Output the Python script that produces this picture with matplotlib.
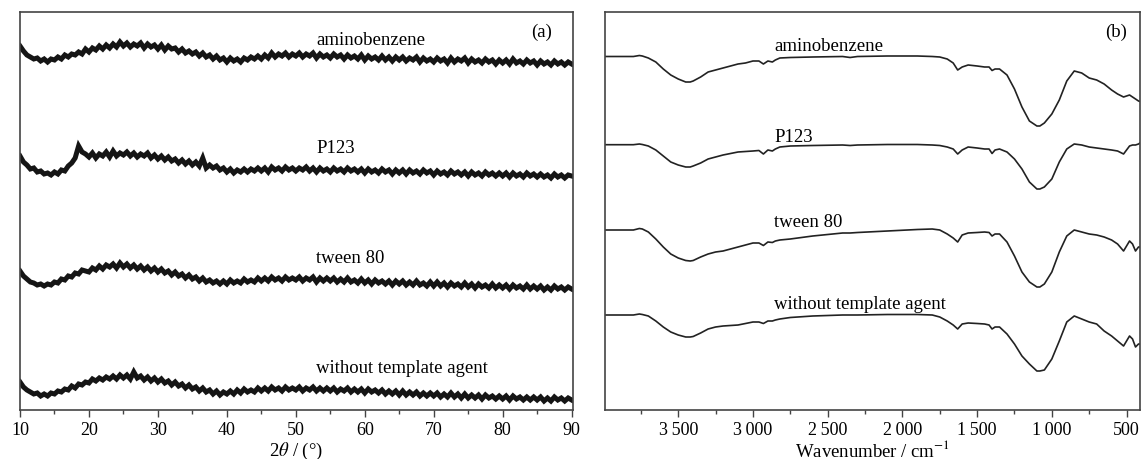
import numpy as np
import matplotlib
matplotlib.use('Agg')
import matplotlib.pyplot as plt
from matplotlib.ticker import MultipleLocator, FixedLocator

plt.rcParams['font.family'] = ['Liberation Serif', 'DejaVu Serif']
plt.rcParams['mathtext.fontset'] = 'stix'

# ---- (a) XRD, 2theta from 10 to 90 in 0.5 deg steps (intensity in arbitrary units)
two_theta = np.arange(10, 90.01, 0.5)

xrd_aminobenzene = [
    364, 359, 355, 353, 351, 352, 349, 351, 348, 351,
    350, 353, 351, 355, 353, 356, 355, 358, 356, 361,
    358, 362, 360, 364, 361, 365, 362, 366, 363, 368,
    364, 367, 363, 366, 364, 367, 362, 366, 363, 365,
    361, 365, 360, 364, 361, 362, 358, 361, 357, 359,
    356, 358, 354, 357, 353, 355, 351, 354, 350, 352,
    348, 352, 349, 351, 348, 352, 350, 353, 351, 354,
    351, 355, 352, 357, 353, 356, 354, 357, 353, 356,
    354, 357, 353, 356, 354, 357, 352, 356, 353, 355,
    352, 356, 353, 355, 351, 355, 352, 354, 351, 355,
    350, 354, 351, 353, 350, 354, 350, 353, 349, 353,
    350, 353, 349, 352, 350, 353, 348, 352, 349, 351,
    348, 352, 349, 351, 347, 352, 348, 351, 349, 352,
    347, 351, 348, 350, 347, 351, 348, 350, 346, 350,
    347, 350, 346, 351, 347, 349, 346, 350, 347, 349,
    345, 349, 346, 348, 345, 349, 346, 348, 345, 348,
    346]

xrd_p123 = [
    254, 248, 245, 241, 242, 238, 239, 236, 237, 235,
    238, 236, 240, 239, 244, 247, 252, 264, 258, 256,
    253, 257, 252, 256, 254, 258, 253, 259, 254, 257,
    255, 258, 254, 257, 253, 256, 254, 257, 252, 255,
    251, 254, 250, 253, 249, 251, 247, 250, 246, 249,
    245, 248, 244, 252, 242, 245, 242, 244, 240, 242,
    238, 241, 237, 240, 238, 241, 238, 241, 239, 242,
    239, 242, 238, 243, 240, 242, 239, 243, 240, 242,
    239, 242, 240, 243, 239, 242, 238, 242, 239, 241,
    238, 242, 239, 241, 238, 242, 239, 241, 238, 241,
    237, 241, 238, 240, 237, 241, 238, 240, 236, 240,
    237, 240, 236, 240, 237, 239, 236, 240, 237, 239,
    235, 239, 236, 238, 235, 239, 236, 238, 235, 238,
    234, 238, 235, 237, 234, 238, 235, 237, 234, 237,
    234, 237, 233, 237, 234, 236, 233, 237, 234, 236,
    233, 236, 233, 235, 232, 236, 233, 235, 232, 235,
    234]

xrd_tween80 = [
    139, 134, 131, 128, 127, 125, 126, 124, 126, 125,
    128, 127, 131, 130, 134, 133, 137, 136, 140, 139,
    138, 142, 140, 144, 141, 145, 143, 146, 142, 147,
    143, 146, 142, 145, 141, 144, 140, 143, 139, 142,
    138, 141, 137, 139, 135, 138, 134, 136, 132, 135,
    131, 133, 129, 132, 128, 130, 127, 129, 126, 129,
    126, 130, 127, 129, 127, 131, 128, 130, 128, 132,
    129, 132, 129, 133, 130, 132, 129, 133, 130, 132,
    130, 133, 129, 132, 130, 133, 128, 132, 129, 132,
    129, 132, 128, 131, 128, 132, 128, 130, 127, 131,
    127, 130, 126, 130, 127, 129, 126, 129, 125, 129,
    126, 129, 125, 128, 125, 129, 125, 127, 124, 128,
    124, 128, 124, 127, 123, 127, 124, 126, 123, 127,
    123, 126, 122, 126, 123, 125, 122, 126, 122, 125,
    122, 125, 121, 125, 122, 124, 121, 125, 121, 124,
    121, 124, 120, 123, 120, 124, 121, 123, 120, 123,
    121]

xrd_no_template = [
    28, 23, 20, 18, 16, 17, 14, 16, 14, 17,
    16, 19, 18, 21, 20, 24, 22, 26, 25, 28,
    27, 31, 29, 32, 30, 33, 31, 34, 31, 35,
    32, 35, 31, 38, 32, 34, 30, 33, 29, 32,
    28, 31, 27, 29, 25, 28, 24, 26, 22, 25,
    21, 23, 19, 22, 18, 20, 16, 19, 15, 18,
    16, 19, 16, 20, 17, 21, 18, 20, 18, 22,
    19, 22, 19, 23, 20, 22, 19, 23, 20, 22,
    20, 23, 19, 22, 20, 23, 19, 22, 19, 22,
    19, 22, 18, 21, 19, 22, 18, 21, 18, 21,
    17, 21, 18, 20, 17, 20, 16, 19, 16, 19,
    15, 19, 15, 18, 15, 18, 14, 17, 14, 17,
    14, 17, 13, 16, 13, 17, 13, 16, 12, 16,
    12, 15, 12, 15, 11, 15, 12, 14, 11, 14,
    11, 14, 10, 14, 11, 13, 10, 13, 10, 13,
    10, 13, 9, 12, 9, 13, 10, 12, 9, 12,
    10]

# ---- (b) FTIR, wavenumber in cm-1 (transmittance in arbitrary units)
wavenumber = [
    4000, 3900, 3800, 3760, 3740, 3700, 3650, 3600, 3550, 3500,
    3450, 3420, 3400, 3350, 3300, 3250, 3200, 3150, 3100, 3050,
    3000, 2960, 2930, 2900, 2870, 2850, 2820, 2750, 2600, 2400,
    2350, 2300, 2100, 1900, 1800, 1750, 1700, 1660, 1630, 1600,
    1560, 1500, 1450, 1420, 1400, 1380, 1350, 1300, 1250, 1200,
    1150, 1100, 1080, 1050, 1000, 950, 900, 850, 800, 750,
    700, 650, 600, 560, 520, 480, 460, 440, 420, 400]

ir_aminobenzene = [
    353.5, 353.5, 353.5, 354.5, 354, 352, 348, 341, 335, 331,
    328, 328, 329, 333, 338, 340, 342, 344, 346, 347,
    349, 349, 346, 349, 348, 350, 352, 352.5, 353, 353.5,
    352.5, 353.5, 354, 354, 353.5, 353, 351, 347, 340, 343,
    345, 344, 343, 343, 339.5, 341, 341, 335, 321, 303,
    289, 284, 284, 287, 296, 310, 329, 339, 337, 332,
    330, 326, 320, 316, 313, 315, 313, 311, 309, 308]

ir_p123 = [
    265.3, 265.3, 265.3, 266, 265.5, 264, 260, 254, 248, 245,
    243, 243, 244, 247, 251, 253, 255, 256.5, 258, 258.5,
    259, 259.5, 256, 260, 259, 261, 263, 264, 264.5, 265,
    264.5, 265, 265.5, 265.5, 265, 264.5, 263, 261, 256, 260,
    263, 262, 261, 261, 256.5, 260, 261, 258, 251, 241,
    228, 221, 221, 223, 231, 248, 261, 266, 265, 263,
    262, 261, 260, 259, 256, 264, 265, 265, 266, 268]

ir_tween80 = [
    180, 180, 180, 181.5, 181, 178, 171, 163, 156, 152,
    149.5, 149, 149.5, 153, 156, 158, 159, 161, 163, 165,
    167, 167, 164.5, 168, 167.5, 169, 170, 171, 174, 177,
    177, 177.5, 179, 180.5, 181, 180, 176, 172, 168, 175,
    177, 177.5, 178, 177.5, 174, 176, 176, 168, 154, 138,
    128, 123, 123, 126, 138, 158, 174, 180, 178, 176,
    175, 173, 170, 166, 159, 169, 166, 159, 163, 163]

ir_no_template = [
    95, 95, 95, 96, 95.5, 94, 89, 83, 78, 75,
    73, 73, 73.5, 77, 81, 83, 84, 84.5, 85, 86.5,
    88, 88, 86.5, 89, 89, 90, 91, 92.5, 94, 95,
    95, 95, 95.5, 95.5, 95, 93, 89, 85, 81, 86,
    87, 86.5, 86, 85, 81, 83, 83, 76, 66, 54,
    46, 39, 39, 40, 51, 69, 88, 94, 91, 88,
    86, 79, 74, 69, 64, 74, 71, 63, 66, 66]

labels = ['aminobenzene', 'P123', 'tween 80', 'without template agent']
xrd_series = [xrd_aminobenzene, xrd_p123, xrd_tween80, xrd_no_template]
ir_series = [ir_aminobenzene, ir_p123, ir_tween80, ir_no_template]
xrd_label_y = [366, 258, 148, 38]
ir_label_y = [360, 269, 184, 102]

W, H = 1143, 460
fig = plt.figure(figsize=(W / 100, H / 100), dpi=100)
ax1 = fig.add_axes([20 / W, 1 - 411 / H, 553 / W, 398 / H])
ax2 = fig.add_axes([605 / W, 1 - 411 / H, 535 / W, 398 / H])

for y in xrd_series:
    ax1.plot(two_theta, y, color='#151515', lw=3.6, solid_joinstyle='miter')
for y in ir_series:
    ax2.plot(wavenumber, y, color='#222222', lw=1.2)

for lab, yy in zip(labels, xrd_label_y):
    ax1.text(53, yy, lab, fontsize=13.5, va='baseline', ha='left')
for lab, yy in zip(labels, ir_label_y):
    ax2.text(2857, yy, lab, fontsize=13.5, va='baseline', ha='left')
ax1.text(87.1, 374, '(a)', fontsize=13.5, va='baseline', ha='right')
ax2.text(498, 374, '(b)', fontsize=13.5, va='baseline', ha='right')

ax1.set_xlim(10, 90.2)
ax1.xaxis.set_major_locator(MultipleLocator(10))
ax1.xaxis.set_minor_locator(MultipleLocator(5))
ax1.set_xlabel(r'2$\theta$ / (°)', fontsize=13.5, labelpad=1)

ax2.set_xlim(3990, 410)
ir_ticks = [3500, 3000, 2500, 2000, 1500, 1000, 500]
ax2.xaxis.set_major_locator(FixedLocator(ir_ticks))
ax2.set_xticklabels(['3\u2009500', '3\u2009000', '2\u2009500', '2\u2009000',
                     '1\u2009500', '1\u2009000', '500'])
ax2.xaxis.set_minor_locator(FixedLocator([3750, 3250, 2750, 2250, 1750, 1250, 750]))
ax2.set_xlabel(r'Wavenumber / cm$^{-1}$', fontsize=13.5, labelpad=1)

for ax in (ax1, ax2):
    ax.set_ylim(0, 398)
    ax.set_yticks([])
    ax.tick_params(axis='x', which='major', direction='out', length=5, width=1,
                   labelsize=13, pad=3, color='#444444')
    ax.tick_params(axis='x', which='minor', direction='out', length=3, width=1,
                   color='#444444')
    for s in ax.spines.values():
        s.set_color('#444444')
        s.set_linewidth(1.2)

fig.savefig('out.png', dpi=100)
